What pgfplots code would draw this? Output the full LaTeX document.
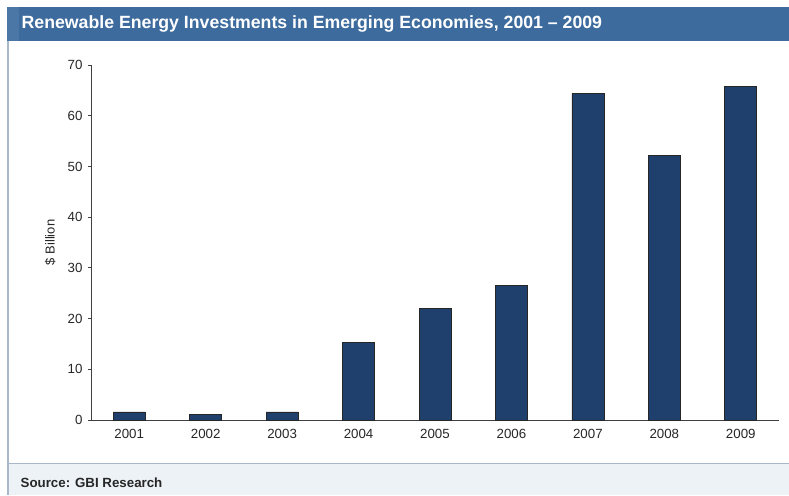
\documentclass[border=0pt]{standalone}
\usepackage{pgfplots}
\pgfplotsset{compat=1.18}
\usepackage{fontspec}
\setmainfont{Liberation Sans}
\definecolor{barblue}{HTML}{1F3F6C}
\definecolor{titleblue}{HTML}{3D6B9D}
\definecolor{titlestrip}{HTML}{4A77A6}
\definecolor{framegray}{HTML}{A8B8C8}
\definecolor{footfill}{HTML}{EDF2F6}

\begin{document}
\begin{tikzpicture}[x=1pt,y=1pt]
\useasboundingbox (0,0) rectangle (789,495);
% frame, title bar and footer
\fill[footfill] (8,0) rectangle (789,32);
\draw[framegray,line width=1pt] (8,32) -- (789,32);
\draw[framegray,line width=1.2pt] (8,0) -- (8,454);
\fill[titleblue] (7,454) rectangle (789,487.5);
\fill[titlestrip] (7,454) rectangle (19,487.5);
\node[anchor=west,text=white,font=\bfseries\fontsize{17.7}{20}\selectfont,inner sep=0pt] at (21.5,471)
  {Renewable Energy Investments in Emerging Economies, 2001 -- 2009};
\node[anchor=west,font=\bfseries\fontsize{13.3}{15}\selectfont,inner sep=0pt,text=black!85] at (20.5,12.5) {Source: GBI Research};

\begin{axis}[
  at={(91pt,75pt)}, anchor=south west,
  scale only axis, width=688pt, height=355pt,
  xmin=-0.5, xmax=8.5, ymin=0, ymax=70,
  axis x line=bottom, axis y line=left,
  axis line style={-, black!75, line width=0.8pt},
  ytick={0,10,...,70},
  xtick={0,...,8},
  xticklabels={2001,2002,2003,2004,2005,2006,2007,2008,2009},
  extra x ticks={-0.5,0.5,...,8.5},
  extra x tick labels={},
  extra x tick style={major tick length=4pt, tick align=outside},
  x tick style={draw=none},
  y tick style={black!75, line width=0.8pt},
  tick align=outside, major tick length=3pt,
  ylabel={\$ Billion},
  ylabel style={at={(axis description cs:0,0.5)}, anchor=south, yshift=32pt},
  tick label style={font=\fontsize{13.3}{15}\selectfont, text=black!85},
  label style={font=\fontsize{13}{15}\selectfont, text=black!85},
  xticklabel style={yshift=-3pt},
  yticklabel style={xshift=-2pt},
  /pgf/number format/assume math mode=true,
  ybar, bar width=32pt,
  clip=false,
]
\addplot[fill=barblue, draw=black!85, line width=0.6pt] coordinates {
  (0,1.6) (1,1.1) (2,1.6) (3,15.3) (4,22.0) (5,26.6) (6,64.4) (7,52.1) (8,65.8)
};
\end{axis}
\end{tikzpicture}
\end{document}
